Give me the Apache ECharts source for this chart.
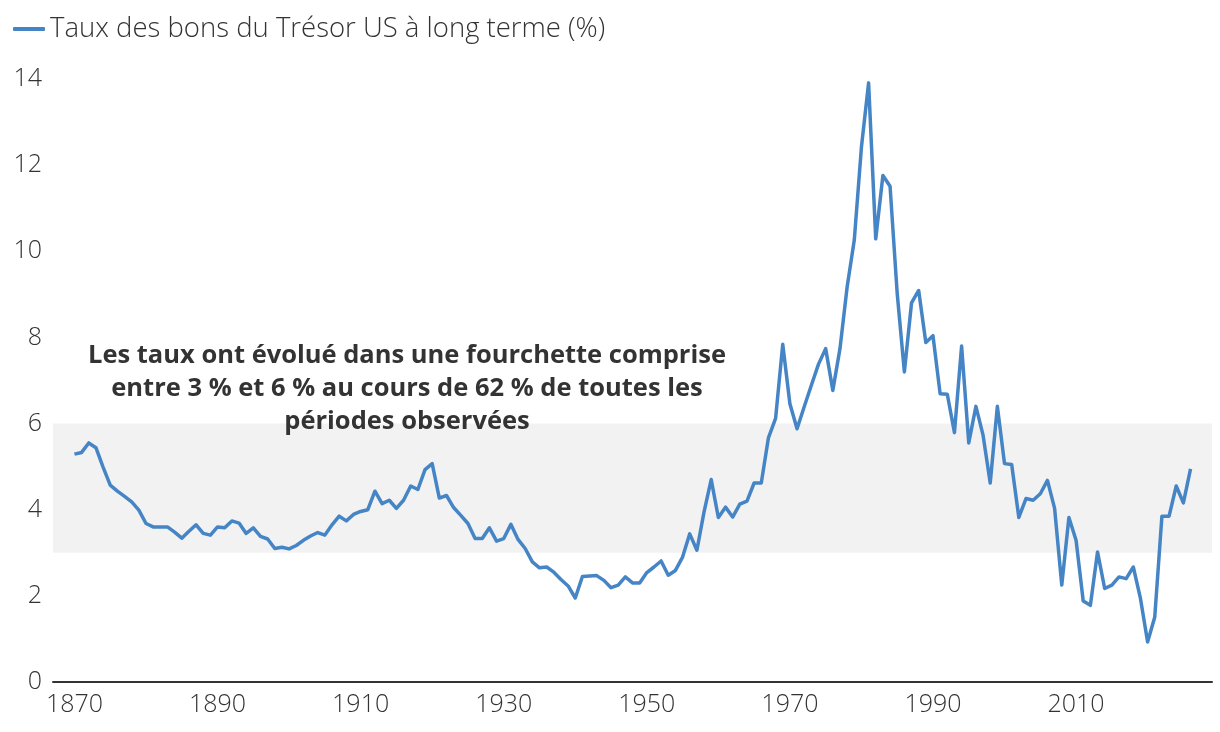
<!DOCTYPE html>
<html>
<head>
<meta charset="utf-8">
<script src="https://cdn.jsdelivr.net/npm/echarts@6/dist/echarts.min.js"></script>
<style>
  html, body { margin: 0; padding: 0; background: #fff; }
  #chart { width: 1220px; height: 732px; }
</style>
</head>
<body>
<div id="chart"></div>
<script>
// yearly long-term US Treasury yield (%), 1870 -> 2026
const firstYear = 1870;
const yields = [
  5.29, 5.33, 5.55, 5.44, 4.99, 4.57, 4.43, 4.31, 4.18, 3.99, // 1870s
  3.68, 3.60, 3.60, 3.60, 3.48, 3.34, 3.50, 3.65, 3.45, 3.41, // 1880s
  3.60, 3.58, 3.74, 3.69, 3.45, 3.58, 3.38, 3.32, 3.10, 3.13, // 1890s
  3.09, 3.17, 3.29, 3.39, 3.47, 3.41, 3.65, 3.85, 3.74, 3.89, // 1900s
  3.96, 4.00, 4.43, 4.14, 4.22, 4.03, 4.22, 4.55, 4.47, 4.93, // 1910s
  5.07, 4.27, 4.33, 4.05, 3.87, 3.68, 3.33, 3.33, 3.58, 3.27, // 1920s
  3.33, 3.66, 3.31, 3.10, 2.79, 2.65, 2.67, 2.55, 2.38, 2.23, // 1930s
  1.95, 2.45, 2.46, 2.47, 2.36, 2.19, 2.25, 2.44, 2.30, 2.30, // 1940s
  2.54, 2.67, 2.81, 2.48, 2.59, 2.90, 3.44, 3.06, 3.95, 4.70, // 1950s
  3.82, 4.06, 3.83, 4.13, 4.20, 4.62, 4.62, 5.67, 6.12, 7.84, // 1960s
  6.46, 5.88, 6.39, 6.89, 7.38, 7.74, 6.77, 7.74, 9.17, 10.26, // 1970s
  12.42, 13.91, 10.29, 11.76, 11.51, 9.02, 7.20, 8.80, 9.09, 7.88, // 1980s
  8.04, 6.69, 6.68, 5.79, 7.80, 5.55, 6.40, 5.73, 4.62, 6.40, // 1990s
  5.07, 5.05, 3.82, 4.26, 4.22, 4.37, 4.68, 4.03, 2.25, 3.82, // 2000s
  3.29, 1.88, 1.78, 3.02, 2.17, 2.25, 2.44, 2.40, 2.67, 1.94, // 2010s
  0.93, 1.51, 3.85, 3.85, 4.55, 4.16, 4.95                     // 2020s
];
const years = yields.map((_, i) => firstYear + i);

const xTickLabels = [1870, 1890, 1910, 1930, 1950, 1970, 1990, 2010];
const yTickLabels = [0, 2, 4, 6, 8, 10, 12, 14];
const bandRange = [3, 6];

const seriesName = 'Taux des bons du Trésor US à long terme (%)';
const noteLines = [
  'Les taux ont évolué dans une fourchette comprise',
  'entre 3 % et 6 % au cours de 62 % de toutes les',
  'périodes observées'
];

const FONT = 'Open Sans';
const TEXT = '#333333';
const BLUE = '#4585c6';

const chart = echarts.init(document.getElementById('chart'));

const option = {
  backgroundColor: '#ffffff',
  animation: false,
  textStyle: { fontFamily: FONT },
  legend: {
    left: 8,
    top: 10,
    icon: 'roundRect',
    itemWidth: 32,
    itemHeight: 4,
    itemGap: 8,
    textStyle: { fontFamily: FONT, fontSize: 27.5, color: TEXT, fontWeight: 300 },
    data: [seriesName]
  },
  grid: { left: 53, right: 8, top: 79, bottom: 50, containLabel: false },
  xAxis: {
    type: 'value',
    min: 1867,
    max: 2029,
    interval: 1,
    splitLine: { show: false },
    axisTick: { show: false },
    axisLine: { show: true, lineStyle: { color: '#333333', width: 2 } },
    axisLabel: {
      margin: 10,
      fontFamily: FONT,
      fontSize: 25,
      fontWeight: 300,
      color: TEXT,
      showMinLabel: true,
      showMaxLabel: true,
      formatter: (v) => (xTickLabels.indexOf(v) >= 0 ? String(v) : '')
    }
  },
  yAxis: {
    type: 'value',
    min: yTickLabels[0],
    max: yTickLabels[yTickLabels.length - 1],
    interval: 2,
    splitLine: { show: false },
    axisLine: { show: false },
    axisTick: { show: false },
    axisLabel: {
      margin: 11,
      fontFamily: FONT,
      fontSize: 25,
      fontWeight: 300,
      color: TEXT
    }
  },
  graphic: [{
    type: 'text',
    x: 407,
    y: 339,
    style: {
      text: noteLines.join('\n'),
      align: 'center',
      verticalAlign: 'top',
      fontFamily: FONT,
      fontSize: 25.5,
      fontWeight: 'bold',
      lineHeight: 33,
      fill: TEXT
    },
    z: 10
  }],
  series: [{
    name: seriesName,
    type: 'line',
    data: years.map((y, i) => [y, yields[i]]),
    showSymbol: false,
    symbol: 'none',
    lineStyle: { color: BLUE, width: 3.5, join: 'round' },
    itemStyle: { color: BLUE },
    markArea: {
      silent: true,
      itemStyle: { color: '#f2f2f2' },
      data: [[{ yAxis: bandRange[0] }, { yAxis: bandRange[1] }]]
    },
    z: 3
  }]
};

chart.setOption(option);
</script>
</body>
</html>
